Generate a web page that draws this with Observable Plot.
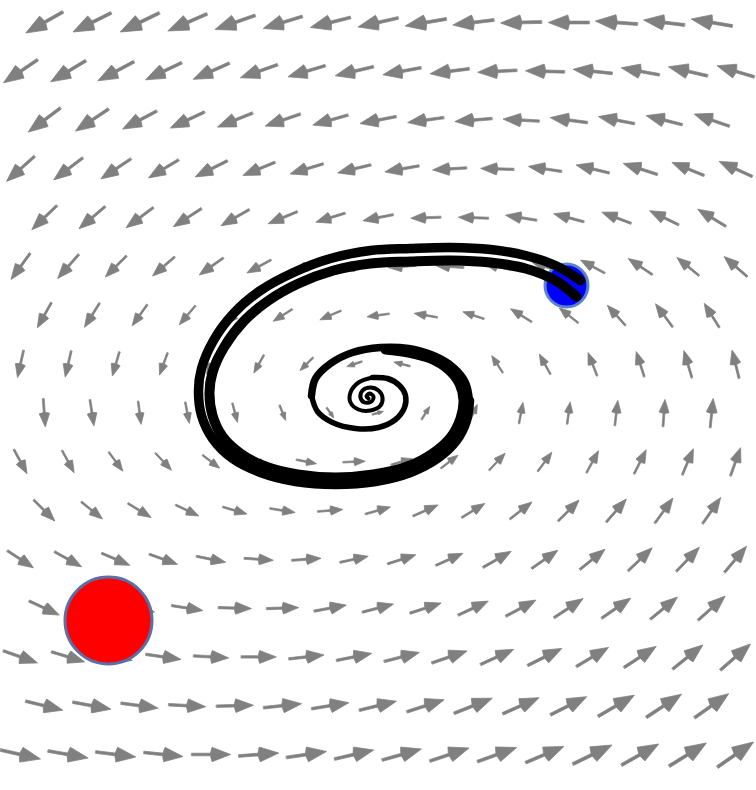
<!DOCTYPE html>
<html>
<head>
<meta charset="utf-8">
<script src="https://cdn.jsdelivr.net/npm/d3@7"></script>
<script src="https://cdn.jsdelivr.net/npm/@observablehq/plot@0.6"></script>
<style>
  html, body { margin: 0; padding: 0; background: #fff; }
  #chart svg { display: block; }
</style>
</head>
<body>
<div id="chart"></div>
<script>
// Phase-plane sampling lattice (staggered rows), plane units.
const gridStepU = 0.4767;
const gridStepV = 0.488;
const gridU0Long = -3.47;   // rows with 16 samples
const gridU0Short = -3.232; // rows with 15 samples (shifted half a step)
const gridV0 = 3.73;        // top row

// Field components per row (top row first): horizontal (u) and vertical (v, up positive).
const fieldU = [
  [-37,-38,-39,-39,-40,-39,-40,-40,-41,-41,-41,-41,-42,-41,-41],
  [-34,-35,-36,-36,-36,-37,-37,-38,-38,-39,-39,-39,-39,-38,-39,-37],
  [-32,-33,-34,-34,-35,-35,-35,-36,-36,-37,-36,-37,-36,-36,-35],
  [-28,-29,-30,-30,-32,-32,-33,-33,-34,-34,-33,-33,-33,-34,-32,-33],
  [-25,-26,-27,-28,-28,-29,-29,-30,-30,-30,-31,-30,-29,-29,-28],
  [-19,-21,-21,-22,-24,-24,-26,-27,-28,-28,-27,-26,-24,-24,-22,-23],
  [-14,-15,-15,-16,-17,-19,-21,-22,-23,-21,-21,-19,-18,-17,-15],
  [-6,-6,-7,-8,-9,-10,-13,-15,-16,-14,-11,-11,-9,-8,-8,-7],
  [2,4,3,4,5,6,7,11,8,8,4,3,3,2,3],
  [13,12,14,16,17,18,20,22,21,17,16,14,12,12,11,10],
  [21,21,23,23,24,25,25,25,25,23,22,21,20,18,18],
  [26,27,28,28,29,29,29,28,28,27,28,26,25,24,23,22],
  [30,30,30,31,33,32,32,31,31,30,30,29,29,27,27],
  [34,33,33,35,35,35,35,35,35,35,33,34,32,32,30,30],
  [37,38,37,37,37,38,37,37,37,38,36,36,36,35,34],
  [40,40,40,39,39,40,40,39,39,39,39,38,39,37,37,36]
];
const fieldV = [
  [-21,-19,-19,-17,-14,-12,-10,-9,-7,-5,-1,0,3,5,7],
  [-23,-21,-19,-17,-16,-13,-11,-9,-7,-5,-2,1,4,7,9,11],
  [-24,-22,-18,-16,-14,-12,-10,-7,-5,-3,2,5,7,9,12],
  [-25,-22,-20,-18,-16,-13,-10,-8,-6,-2,1,5,8,11,13,15],
  [-24,-22,-20,-18,-16,-12,-9,-6,-1,1,5,8,11,14,17],
  [-26,-24,-21,-19,-17,-13,-10,-6,-2,2,6,9,13,16,18,20],
  [-25,-24,-21,-19,-16,-12,-9,-3,4,7,13,15,20,23,24],
  [-27,-26,-24,-22,-20,-18,-13,-5,4,12,17,20,23,25,27,28],
  [-28,-26,-23,-21,-19,-15,-10,3,13,17,21,22,25,27,29],
  [-24,-22,-19,-17,-13,-8,-4,1,6,13,17,19,22,24,26,28],
  [-21,-17,-14,-11,-7,-4,2,7,11,14,17,21,23,25,26],
  [-17,-15,-12,-10,-6,-2,2,6,9,12,16,18,20,23,24,26],
  [-14,-11,-8,-5,-1,1,6,8,10,14,16,19,20,22,24],
  [-12,-10,-7,-5,-2,0,4,7,9,12,15,17,19,21,24,26],
  [-9,-7,-5,-2,1,4,6,9,12,15,16,18,21,23,24],
  [-9,-7,-5,-4,0,3,6,9,11,13,14,16,19,21,23,25]
];

// Trajectory: outer strand, through every turn of the spiral.
const trajOuterX = [2.13,1.88,1.58,1.23,0.83,0.43,0.03,-0.37,-0.74,-1.07,-1.34,-1.54,-1.66,-1.69,-1.66,-1.55,-1.35,-1.07,-0.72,-0.32,0.08,0.43,0.70,0.89,0.99,1.02,0.98,0.86,0.66,0.41,0.13,-0.15,-0.37,-0.52,-0.56,-0.50,-0.35,-0.12,0.11,0.28,0.37,0.38,0.32,0.20,0.05,-0.09,-0.17,-0.17,-0.09,0.03,0.13,0.15,0.11,0.03,-0.05,-0.07,-0.03,0.04,0.06,0.02,-0.01,0.01];
const trajOuterY = [1.15,1.30,1.40,1.46,1.48,1.47,1.45,1.37,1.23,1.05,0.82,0.55,0.27,0.05,-0.20,-0.43,-0.63,-0.77,-0.86,-0.89,-0.86,-0.77,-0.63,-0.45,-0.25,-0.05,0.13,0.28,0.40,0.47,0.48,0.43,0.32,0.17,0.00,-0.16,-0.27,-0.33,-0.32,-0.24,-0.12,0.00,0.10,0.17,0.18,0.13,0.03,-0.07,-0.14,-0.15,-0.10,-0.02,0.05,0.08,0.05,-0.02,-0.07,-0.06,-0.01,0.02,-0.01,-0.03];
// Inner bundle of the first turn, until it joins the outer strand.
const trajInnerX = [2.09,1.88,1.58,1.23,0.83,0.43,0.03,-0.34,-0.69,-0.99,-1.24,-1.43,-1.55,-1.58,-1.55,-1.45,-1.27,-1.02,-0.70,-0.32,0.06,0.40,0.65,0.83,0.93,0.96,0.92,0.81,0.63,0.41,0.18];
const trajInnerY = [0.99,1.15,1.27,1.33,1.35,1.34,1.32,1.25,1.12,0.95,0.74,0.49,0.23,0.03,-0.20,-0.41,-0.58,-0.71,-0.79,-0.82,-0.79,-0.71,-0.58,-0.42,-0.23,-0.05,0.12,0.26,0.37,0.43,0.46];

// Initial condition (blue) and equilibrium marker (red).
const startPoint = {x: 1.99, y: 1.10};
const redPoint = {x: -2.59, y: -2.25};

// Build the vector samples.
const arrows = [];
fieldU.forEach((row, r) => {
  const u0 = row.length === 16 ? gridU0Long : gridU0Short;
  row.forEach((du, k) => {
    const dv = fieldV[r][k];
    arrows.push({
      x: u0 + k * gridStepU,
      y: gridV0 - r * gridStepV,
      angle: Math.atan2(du, dv) * 180 / Math.PI,
      len: Math.hypot(du, dv)
    });
  });
});

// Arrow glyph: thin shaft with a filled triangular head, scaled by length.
const arrowShape = {
  draw(context, l) {
    const hl = 0.52 * l, hw = 0.185 * l, sw = Math.max(0.8, 0.034 * l);
    context.moveTo(-sw, 0);
    context.lineTo(-sw, -l + hl);
    context.lineTo(-hw, -l + hl * 0.92);
    context.lineTo(0, -l);
    context.lineTo(hw, -l + hl * 0.92);
    context.lineTo(sw, -l + hl);
    context.lineTo(sw, 0);
    context.closePath();
  }
};

const toPoints = (xs, ys) => xs.map((x, i) => ({x, y: ys[i]}));
const outer = toPoints(trajOuterX, trajOuterY);
const inner = toPoints(trajInnerX, trajInnerY);

// The bundle thins as it winds inward.
const outerSegments = [[0, 26, 9.5], [25, 35, 7.5], [34, 45, 5.5], [44, outer.length, 4]];

const lineStyle = {x: "x", y: "y", stroke: "black", curve: "catmull-rom", strokeLinecap: "round", strokeLinejoin: "round"};

const chart = Plot.plot({
  width: 756,
  height: 790,
  margin: 0,
  x: {domain: [-3.67, 3.89], axis: null},
  y: {domain: [-3.95, 3.95], axis: null},
  length: {domain: [0, 50], range: [0, 50]},
  marks: [
    Plot.vector(arrows, {
      x: "x", y: "y", rotate: "angle", length: "len",
      anchor: "middle", shape: arrowShape,
      fill: "#808080", stroke: "#808080", strokeWidth: 0.7
    }),
    Plot.dot([startPoint], {x: "x", y: "y", r: 21.5, fill: "#0000ff", stroke: "#5a84c9", strokeWidth: 3}),
    Plot.line(inner, {...lineStyle, strokeWidth: 10}),
    ...outerSegments.map(([a, b, w]) => Plot.line(outer.slice(a, b), {...lineStyle, strokeWidth: w})),
    Plot.dot([redPoint], {x: "x", y: "y", r: 43.5, fill: "#ff0000", stroke: "#5b6ea6", strokeWidth: 3})
  ]
});

document.getElementById("chart").append(chart);
</script>
</body>
</html>
